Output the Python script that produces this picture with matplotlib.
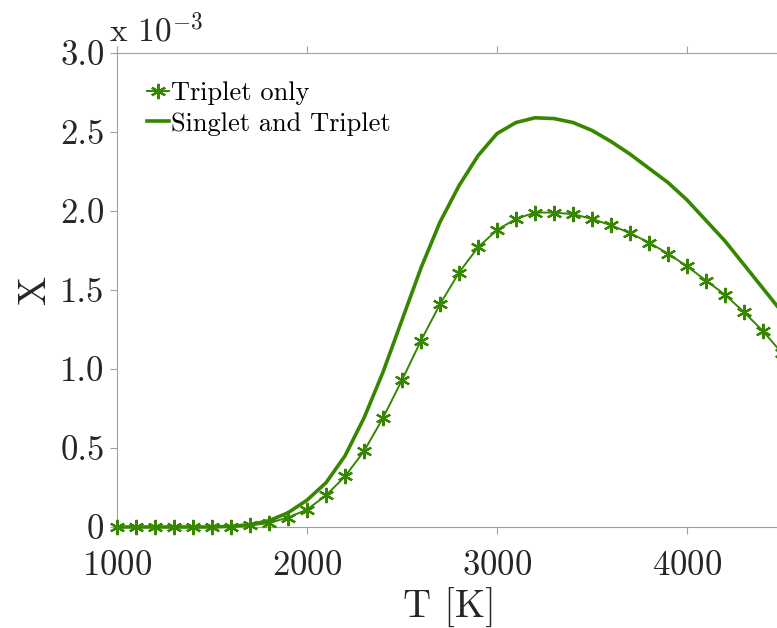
import matplotlib
matplotlib.use('Agg')
import matplotlib.pyplot as plt
from matplotlib.ticker import FuncFormatter

plt.rcParams['font.family'] = 'cmr10'
plt.rcParams['mathtext.fontset'] = 'cm'
plt.rcParams['axes.unicode_minus'] = False
plt.rcParams['axes.formatter.use_mathtext'] = True

# temperature grid [K]
T = [1000, 1100, 1200, 1300, 1400, 1500, 1600, 1700, 1800, 1900,
     2000, 2100, 2200, 2300, 2400, 2500, 2600, 2700, 2800, 2900,
     3000, 3100, 3200, 3300, 3400, 3500, 3600, 3700, 3800, 3900,
     4000, 4100, 4200, 4300, 4400, 4500]

# mole fraction, units of 1e-3
x_triplet = [0.0, 0.0, 0.0, 0.0, 0.0, 0.0, 0.003, 0.01, 0.025, 0.06,
             0.11, 0.20, 0.32, 0.48, 0.69, 0.93, 1.18, 1.41, 1.61, 1.77,
             1.88, 1.95, 1.99, 1.99, 1.98, 1.95, 1.91, 1.86, 1.80, 1.73,
             1.65, 1.56, 1.47, 1.36, 1.24, 1.10]
x_both = [0.0, 0.0, 0.0, 0.0, 0.0, 0.0, 0.004, 0.015, 0.04, 0.09,
          0.17, 0.28, 0.45, 0.69, 0.98, 1.31, 1.64, 1.93, 2.16, 2.35,
          2.49, 2.56, 2.59, 2.585, 2.56, 2.51, 2.44, 2.36, 2.27, 2.18,
          2.07, 1.94, 1.81, 1.66, 1.51, 1.36]

green = '#368600'
gray = '#a0a0a0'
textc = '#262626'

fig = plt.figure(figsize=(7.77, 6.28), dpi=100)
W, H = 777.0, 628.0
ax = fig.add_axes([117 / W, (H - 527) / H, 665 / W, (527 - 53) / H])

ax.plot(T, x_triplet, color=green, lw=1.4, marker=(6, 2, 0), ms=11,
        mew=1.6, label='Triplet only', clip_on=False, zorder=4)
ax.plot(T, x_both, color=green, lw=2.6, label='Singlet and Triplet',
        clip_on=False, zorder=3)

ax.set_xlim(1000, 4500)
ax.set_ylim(0, 3.0)
ax.set_xticks([1000, 2000, 3000, 4000])
ax.set_yticks([0, 0.5, 1.0, 1.5, 2.0, 2.5, 3.0])
ax.yaxis.set_major_formatter(FuncFormatter(lambda v, p: '0' if v == 0 else '%.1f' % v))

for s in ax.spines.values():
    s.set_color(gray)
    s.set_linewidth(0.8)
ax.tick_params(direction='out', length=5, width=0.8, color=gray,
               labelsize=25, labelcolor=textc, pad=4)
ax.tick_params(axis='x', top=True, pad=12)

ax.set_xlabel('T [K]', fontsize=28, color=textc, labelpad=4)
ax.set_ylabel('X', fontsize=28, color=textc, labelpad=5)

ax.text(-0.012, 1.012, r'x $10^{-3}$', transform=ax.transAxes, fontsize=24,
        color=textc, ha='left', va='bottom')

ax.legend(loc='upper left', bbox_to_anchor=(0.01, 0.99), frameon=False,
          fontsize=19, handlelength=0.8, handletextpad=0.1,
          labelspacing=0.25, borderaxespad=0.5)

fig.savefig('out.png', dpi=100)
